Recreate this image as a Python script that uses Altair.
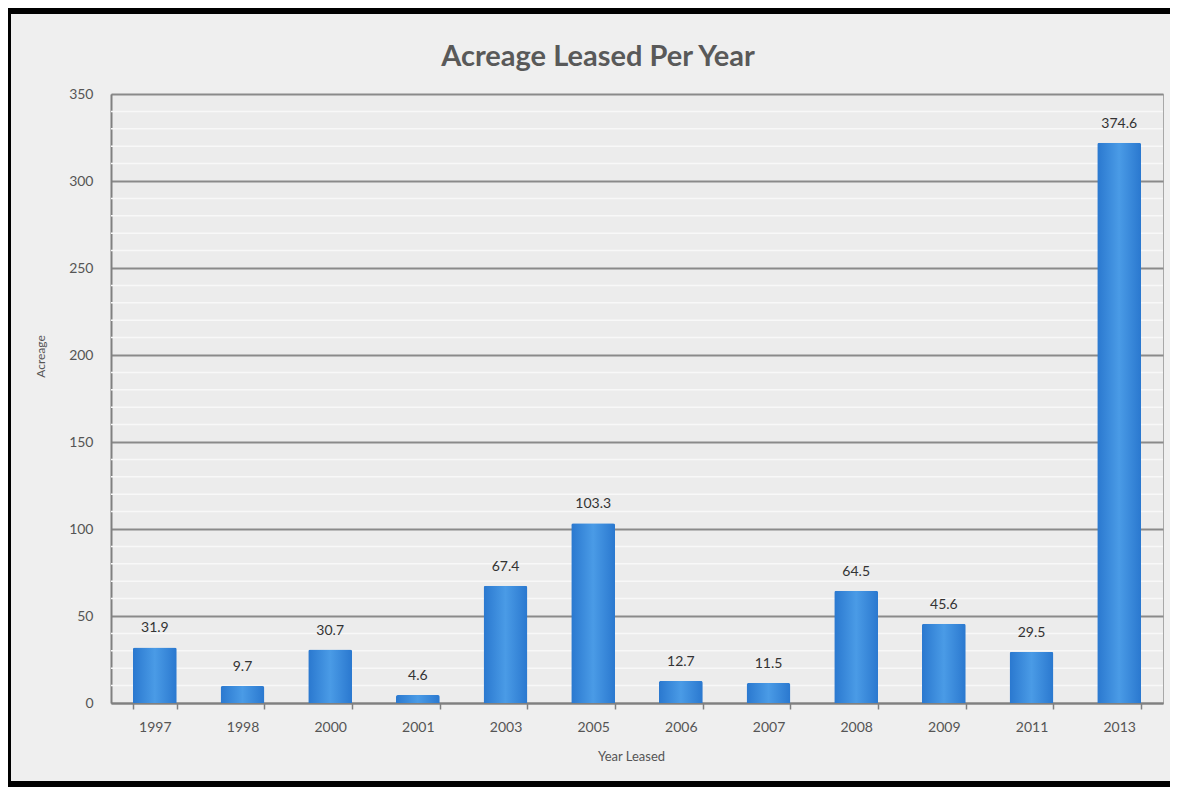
import altair as alt
import pandas as pd

years = ["1997", "1998", "2000", "2001", "2003", "2005", "2006", "2007", "2008", "2009", "2011", "2013"]
# heights as drawn in the picture (the 2013 bar is drawn at ~322 though labelled 374.6)
bar_heights = [31.9, 9.7, 30.7, 4.6, 67.4, 103.3, 12.7, 11.5, 64.5, 45.6, 29.5, 322.0]
bar_labels = ["31.9", "9.7", "30.7", "4.6", "67.4", "103.3", "12.7", "11.5", "64.5", "45.6", "29.5", "374.6"]
y_ticks = [0, 50, 100, 150, 200, 250, 300, 350]
minor_lines = [v for v in range(10, 350, 10) if v % 50 != 0]

df = pd.DataFrame({"year": years, "acreage": bar_heights, "label": bar_labels})
minor_df = pd.DataFrame({"acreage": minor_lines})

W, H = 1052, 609
FONT = "Lato"

xaxis = alt.Axis(
    title="Year Leased",
    labelAngle=0,
    tickBand="extent",
    tickSize=6,
    tickColor="#808080",
    tickWidth=1.5,
    domainColor="#808080",
    domainWidth=2,
    labelPadding=11,
    labelFontSize=14,
    labelColor="#555555",
    labelFont=FONT,
    titleFont=FONT,
    titleFontSize=13,
    titleFontWeight="normal",
    titleColor="#555555",
    titleX=520,
    titleY=53,
    titleAlign="center",
    titleBaseline="middle",
    grid=False,
)
yaxis = alt.Axis(
    title="Acreage",
    values=y_ticks,
    ticks=False,
    labelPadding=18,
    labelFontSize=14,
    labelColor="#555555",
    labelFont=FONT,
    domainColor="#808080",
    domainWidth=2,
    grid=True,
    gridColor="#8a8a8a",
    gridWidth=2,
    titleFont=FONT,
    titleFontSize=12,
    titleFontWeight="normal",
    titleColor="#555555",
    titleX=-71,
    titleY=262,
    titleAlign="center",
    titleBaseline="middle",
)
xscale = alt.Scale(paddingInner=0.5, paddingOuter=0.25)
yscale = alt.Scale(domain=[0, 350], nice=False, zero=True)

minor = alt.Chart(minor_df).mark_rule(color="#f8f8f8", strokeWidth=1.5).encode(
    y=alt.Y("acreage:Q", scale=yscale, axis=yaxis),
    x=alt.value(0),
    x2=alt.value(W),
)

bar_fill = alt.Gradient(
    gradient="linear",
    stops=[
        alt.GradientStop(color="#2a78cf", offset=0),
        alt.GradientStop(color="#4a9be6", offset=0.5),
        alt.GradientStop(color="#2a78cf", offset=1),
    ],
    x1=0, x2=1, y1=0, y2=0,
)

bars = alt.Chart(df).mark_bar(color=bar_fill, cornerRadiusTopLeft=2, cornerRadiusTopRight=2).encode(
    x=alt.X("year:N", sort=years, scale=xscale, axis=xaxis),
    y=alt.Y("acreage:Q", scale=yscale, axis=yaxis),
)

texts = alt.Chart(df).mark_text(
    baseline="middle", dy=-19, fontSize=14, color="#333333", font=FONT
).encode(
    x=alt.X("year:N", sort=years, scale=xscale, axis=xaxis),
    y=alt.Y("acreage:Q", scale=yscale, axis=yaxis),
    text="label:N",
)

frame = alt.Chart(df).mark_rect(
    fillOpacity=0, stroke="#000000", strokeWidth=12
).encode(
    x=alt.value(-106), x2=alt.value(1090), y=alt.value(-86), y2=alt.value(693)
)

chart = alt.layer(minor, bars, texts, frame).properties(
    width=W,
    height=H,
    title=alt.TitleParams(
        "Acreage Leased Per Year",
        fontSize=29,
        fontWeight="bold",
        font=FONT,
        color="#595959",
        anchor="middle",
        dx=-39,
        dy=70,
        offset=0,
    ),
    autosize=alt.AutoSizeParams(type="none"),
    padding={"left": 103, "top": 86, "right": 7, "bottom": 84},
    background="#efefef",
).configure_view(
    fill="#ececec", stroke="#a8a8a8", strokeWidth=1
)

chart.save("out.html", embed_options={"renderer": "svg", "actions": False})
